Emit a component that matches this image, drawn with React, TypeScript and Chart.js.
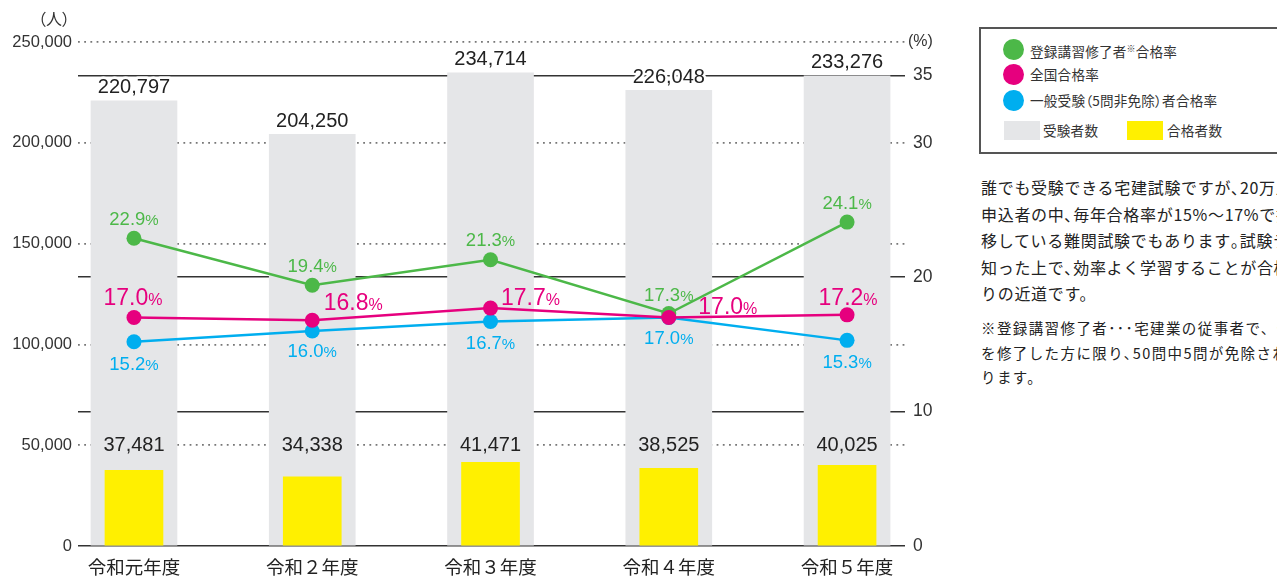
import React, { useEffect, useRef } from 'react';
import { Chart, registerables } from 'chart.js';

Chart.register(...registerables);

// ---- data ----
const categories = ['令和元年度', '令和２年度', '令和３年度', '令和４年度', '令和５年度'];
const applicants = [220797, 204250, 234714, 226048, 233276];
const passers = [37481, 34338, 41471, 38525, 40025];
const registeredRate = [22.9, 19.4, 21.3, 17.3, 24.1];
const nationalRate = [17.0, 16.8, 17.7, 17.0, 17.2];
const generalRate = [15.2, 16.0, 16.7, 17.0, 15.3];
const leftTicks = [0, 50000, 100000, 150000, 200000, 250000];
const rightTicks = [0, 10, 20, 30, 35];

// ---- label placement (pixel offsets from the point) ----
const greenOffsets = [[0, -20], [0, -20], [0, -20], [0, -19], [0, -20]];
const pinkOffsets = [[-1, -21], [41, -18], [40, -11], [59, -12], [1, -18]];
const blueOffsets = [[0, 22], [0, 19], [0, 21], [0, 20], [0, 21]];

const GREEN = '#4cb848';
const PINK = '#e6007e';
const BLUE = '#00aeef';
const GREY = '#e5e6e8';
const YELLOW = '#fff000';
const NUM = '"Liberation Sans", Arial, Helvetica, sans-serif';
const JP = '"Noto Sans CJK JP", "Noto Sans", sans-serif';

const fmt = (v: number) => v.toLocaleString('en-US');

function drawPct(ctx: CanvasRenderingContext2D, text: string, cx: number, cy: number, n: number, p: number, color: string) {
  ctx.font = `${n}px ${NUM}`;
  const w1 = ctx.measureText(text).width;
  ctx.font = `${p}px ${NUM}`;
  const w2 = ctx.measureText('%').width;
  const start = cx - (w1 + w2) / 2;
  const base = cy + n * 0.36;
  ctx.textAlign = 'left';
  ctx.textBaseline = 'alphabetic';
  ctx.fillStyle = color;
  ctx.font = `${n}px ${NUM}`;
  ctx.fillText(text, start, base);
  ctx.font = `${p}px ${NUM}`;
  ctx.fillText('%', start + w1, base);
}

const labelPlugin = {
  id: 'customLabels',
  afterDraw(chart: any) {
    const ctx: CanvasRenderingContext2D = chart.ctx;
    const xs = chart.scales.x;
    const ys = chart.scales.y;
    const y1 = chart.scales.y1;
    ctx.save();
    // applicants labels
    ctx.font = `20px ${NUM}`;
    ctx.textAlign = 'center';
    ctx.textBaseline = 'middle';
    applicants.forEach((v, i) => {
      const px = xs.getPixelForValue(i);
      const py = ys.getPixelForValue(v) - 13;
      ctx.lineWidth = 5;
      ctx.lineJoin = 'round';
      ctx.strokeStyle = '#ffffff';
      ctx.strokeText(fmt(v), px, py);
      ctx.fillStyle = '#222';
      ctx.fillText(fmt(v), px, py);
    });
    // passers labels (on the 50,000 line)
    passers.forEach((v, i) => {
      const px = xs.getPixelForValue(i);
      const py = ys.getPixelForValue(50000);
      ctx.fillStyle = '#222';
      ctx.fillText(fmt(v), px, py);
    });
    // percent labels
    registeredRate.forEach((v, i) => {
      drawPct(ctx, v.toFixed(1), xs.getPixelForValue(i) + greenOffsets[i][0], y1.getPixelForValue(v) + greenOffsets[i][1], 18.5, 15, GREEN);
    });
    nationalRate.forEach((v, i) => {
      drawPct(ctx, v.toFixed(1), xs.getPixelForValue(i) + pinkOffsets[i][0], y1.getPixelForValue(v) + pinkOffsets[i][1], 23, 16, PINK);
    });
    generalRate.forEach((v, i) => {
      drawPct(ctx, v.toFixed(1), xs.getPixelForValue(i) + blueOffsets[i][0], y1.getPixelForValue(v) + blueOffsets[i][1], 18.5, 15, BLUE);
    });
    // unit label (%)
    ctx.font = `16px ${NUM}`;
    ctx.fillStyle = '#333';
    ctx.textAlign = 'left';
    ctx.textBaseline = 'middle';
    ctx.fillText('(%)', chart.chartArea.right + 3, ys.getPixelForValue(250000));
    ctx.restore();
  },
};

function ChartCanvas() {
  const ref = useRef<HTMLCanvasElement | null>(null);
  useEffect(() => {
    if (!ref.current) return;
    const toXY = (arr: number[]) => arr.map((v, i) => ({ x: i, y: v }));
    const chart = new Chart(ref.current, {
      type: 'bar',
      data: {
        datasets: [
          {
            type: 'line', label: '全国合格率', data: toXY(nationalRate), yAxisID: 'y1',
            borderColor: PINK, backgroundColor: PINK, borderWidth: 2.5, pointRadius: 7.5,
            pointBorderWidth: 0, pointBackgroundColor: PINK, order: 0,
          } as any,
          {
            type: 'line', label: '登録講習修了者※合格率', data: toXY(registeredRate), yAxisID: 'y1',
            borderColor: GREEN, backgroundColor: GREEN, borderWidth: 2.5, pointRadius: 7.5,
            pointBorderWidth: 0, pointBackgroundColor: GREEN, order: 1,
          } as any,
          {
            type: 'line', label: '一般受験(5問非免除)者合格率', data: toXY(generalRate), yAxisID: 'y1',
            borderColor: BLUE, backgroundColor: BLUE, borderWidth: 2.5, pointRadius: 7.5,
            pointBorderWidth: 0, pointBackgroundColor: BLUE, order: 2,
          } as any,
          {
            type: 'bar', label: '合格者数', data: toXY(passers), yAxisID: 'y',
            backgroundColor: YELLOW, barThickness: 58, grouped: false, order: 3,
          } as any,
          {
            type: 'bar', label: '受験者数', data: toXY(applicants), yAxisID: 'y',
            backgroundColor: GREY, barThickness: 86, grouped: false, order: 4,
          } as any,
        ],
      },
      options: {
        responsive: false,
        animation: false,
        layout: { padding: { top: 42, left: 0, right: 0, bottom: 0 } },
        plugins: { legend: { display: false }, tooltip: { enabled: false } },
        scales: {
          x: {
            type: 'linear',
            offset: false,
            min: -0.314,
            max: 4.325,
            grid: { display: false, drawTicks: false, offset: false },
            border: { display: false },
            afterBuildTicks: (s: any) => { s.ticks = categories.map((_, i) => ({ value: i })); },
            afterFit: (s: any) => { s.height = 32; },
            ticks: {
              autoSkip: false,
              maxRotation: 0,
              padding: 10,
              color: '#222',
              font: { size: 18.5, family: JP },
              callback: (v: any) => categories[v as number],
            },
          },
          y: {
            position: 'left',
            min: 0,
            max: 250000,
            afterBuildTicks: (s: any) => { s.ticks = leftTicks.map((v) => ({ value: v })); },
            afterFit: (s: any) => { s.width = 78; },
            grid: {
              drawTicks: false,
              lineWidth: 1.8,
              color: (c: any) => (c.tick && c.tick.value === 0 ? 'rgba(0,0,0,0)' : '#777'),
            },
            border: { display: false, dash: [1.8, 4.4] },
            ticks: {
              padding: 6,
              color: '#333',
              font: { size: 16.5, family: NUM },
              callback: (v: any) => fmt(v as number),
            },
          },
          y1: {
            position: 'right',
            min: 0,
            max: 37.5,
            z: 1,
            afterBuildTicks: (s: any) => { s.ticks = rightTicks.map((v) => ({ value: v })); },
            afterFit: (s: any) => { s.width = 55; },
            grid: {
              drawTicks: false,
              lineWidth: 1.5,
              color: (c: any) => (c.tick && c.tick.value === 30 ? 'rgba(0,0,0,0)' : '#333'),
            },
            border: { display: false },
            ticks: {
              padding: 8,
              color: '#333',
              font: { size: 17.5, family: NUM },
            },
          },
        },
      } as any,
      plugins: [labelPlugin],
    });
    return () => chart.destroy();
  }, []);
  return <canvas ref={ref} width={960} height={578} style={{ position: 'absolute', left: 0, top: 0, width: 960, height: 578 }} />;
}

const abs = (left: number, top: number, extra: React.CSSProperties = {}): React.CSSProperties => ({
  position: 'absolute', left, top, whiteSpace: 'nowrap', ...extra,
});

const paragraphLines = [
  '誰でも受験できる宅建試験ですが､20万人を超える',
  '申込者の中､毎年合格率が15%～17%で推',
  '移している難関試験でもあります｡試験テクニックを',
  '知った上で､効率よく学習することが合格への何よ',
  'りの近道です。',
];
const noteLines = [
  '※登録講習修了者･･･宅建業の従事者で、登録講習',
  'を修了した方に限り､50問中5問が免除されることにな',
  'ります。',
];
const paraCenters = [187, 213.5, 240, 266.5, 293];
const noteCenters = [328, 353, 377];

export default function App() {
  const legendText: React.CSSProperties = { fontFamily: JP, fontSize: 13.6, letterSpacing: 0.2, color: '#333', lineHeight: '20px' };
  const palt: React.CSSProperties = { fontFeatureSettings: '"palt"' };
  return (
    <div style={{ position: 'fixed', left: 0, top: 0, width: 1277, height: 578, overflow: 'hidden', background: '#fff', fontFamily: JP }}>
      <ChartCanvas />
      <div style={abs(38, 8, { fontFamily: JP, fontSize: 16, lineHeight: '20px', color: '#333', fontFeatureSettings: '"palt"' })}>（人）</div>

      {/* legend */}
      <div style={abs(979, 27, { width: 330, height: 127, border: '2px solid #555', boxSizing: 'border-box' })} />
      <div style={abs(1003, 39, { width: 21, height: 21, borderRadius: '50%', background: GREEN })} />
      <div style={abs(1030, 39, legendText)}>
        登録講習修了者<span style={{ fontSize: 9, verticalAlign: 5 }}>※</span>合格率
      </div>
      <div style={abs(1003, 64, { width: 21, height: 21, borderRadius: '50%', background: PINK })} />
      <div style={abs(1030, 64, legendText)}>全国合格率</div>
      <div style={abs(1003, 90, { width: 21, height: 21, borderRadius: '50%', background: BLUE })} />
      <div style={abs(1030, 90, legendText)}>
        一般受験<span style={palt}>（</span>5問非免除<span style={palt}>）</span>者合格率
      </div>
      <div style={abs(1004, 121, { width: 36, height: 19, background: GREY })} />
      <div style={abs(1043, 120, legendText)}>受験者数</div>
      <div style={abs(1127, 121, { width: 36, height: 19, background: YELLOW })} />
      <div style={abs(1167, 120, legendText)}>合格者数</div>

      {/* description */}
      {paragraphLines.map((t, i) => (
        <div key={'p' + i} style={abs(981, paraCenters[i] - 11, { fontSize: 16, letterSpacing: 0.7, lineHeight: '22px', color: '#222' })}>{t}</div>
      ))}
      {noteLines.map((t, i) => (
        <div key={'n' + i} style={abs(981, noteCenters[i] - 10, { fontSize: 14.5, letterSpacing: 1.4, lineHeight: '20px', color: '#222' })}>{t}</div>
      ))}
    </div>
  );
}
